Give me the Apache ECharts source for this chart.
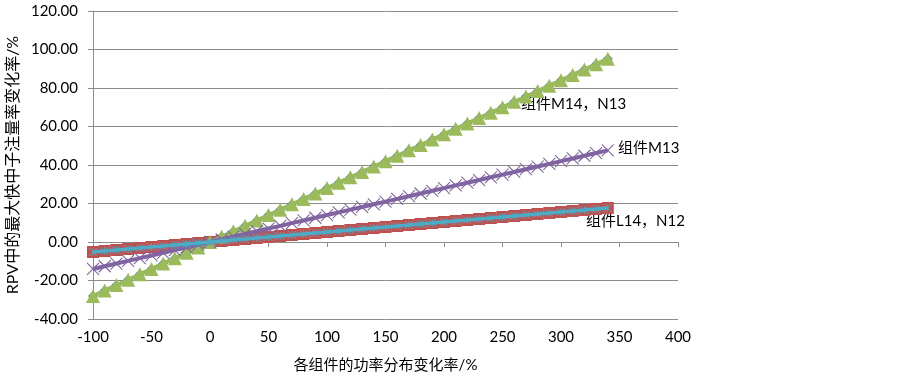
<!DOCTYPE html>
<html><head><meta charset="utf-8">
<script src="https://cdn.jsdelivr.net/npm/echarts@6/dist/echarts.min.js"></script>
<style>html,body{margin:0;padding:0;background:#fff}#c{width:900px;height:377px}</style>
</head><body><div id="c"></div>
<script>
const xValues = [-100,-90,-80,-70,-60,-50,-40,-30,-20,-10,0,10,20,30,40,50,60,70,80,90,100,110,120,130,140,150,160,170,180,190,200,210,220,230,240,250,260,270,280,290,300,310,320,330,340];
const seriesM14 = [-28,-25.2,-22.4,-19.6,-16.8,-14,-11.2,-8.4,-5.6,-2.8,0,2.8,5.6,8.4,11.2,14,16.8,19.6,22.4,25.2,28,30.8,33.6,36.4,39.2,42,44.8,47.6,50.4,53.2,56,58.8,61.6,64.4,67.2,70,72.8,75.6,78.4,81.2,84,86.8,89.6,92.4,95.2];
const seriesN13 = [-28,-25.2,-22.4,-19.6,-16.8,-14,-11.2,-8.4,-5.6,-2.8,0,2.8,5.6,8.4,11.2,14,16.8,19.6,22.4,25.2,28,30.8,33.6,36.4,39.2,42,44.8,47.6,50.4,53.2,56,58.8,61.6,64.4,67.2,70,72.8,75.6,78.4,81.2,84,86.8,89.6,92.4,95.2];
const seriesM13 = [-14,-12.6,-11.2,-9.8,-8.4,-7,-5.6,-4.2,-2.8,-1.4,0,1.4,2.8,4.2,5.6,7,8.4,9.8,11.2,12.6,14,15.4,16.8,18.2,19.6,21,22.4,23.8,25.2,26.6,28,29.4,30.8,32.2,33.6,35,36.4,37.8,39.2,40.6,42,43.4,44.8,46.2,47.6];
const seriesL14 = [-5.2,-4.68,-4.16,-3.64,-3.12,-2.6,-2.08,-1.56,-1.04,-0.52,0,0.52,1.04,1.56,2.08,2.6,3.12,3.64,4.16,4.68,5.2,5.72,6.24,6.76,7.28,7.8,8.32,8.84,9.36,9.88,10.4,10.92,11.44,11.96,12.48,13,13.52,14.04,14.56,15.08,15.6,16.12,16.64,17.16,17.68];
const seriesN12 = [-5.2,-4.68,-4.16,-3.64,-3.12,-2.6,-2.08,-1.56,-1.04,-0.52,0,0.52,1.04,1.56,2.08,2.6,3.12,3.64,4.16,4.68,5.2,5.72,6.24,6.76,7.28,7.8,8.32,8.84,9.36,9.88,10.4,10.92,11.44,11.96,12.48,13,13.52,14.04,14.56,15.08,15.6,16.12,16.64,17.16,17.68];
const xAxisTitle = '各组件的功率分布变化率/%';
const yAxisTitle = 'RPV中的最大快中子注量率变化率/%';
const labelA = '组件M14，N13';
const labelB = '组件M13';
const labelC = '组件L14，N12';

const FONT = 'Lato, "Noto Sans CJK SC", sans-serif';
const GRID = '#8c8c8c';
const xSym = 'path://M0,0 L10,10 M10,0 L0,10';
const starSym = 'path://M0,0 L10,10 M10,0 L0,10 M5,0 L5,10';

function pairs(ys){ return xValues.map((x,i)=>[x,ys[i]]); }
function mk(name, ys, color, symbol, size, lw, stroked, z, bw){
  return {name, type:'line', data:pairs(ys), symbol, symbolSize:size, showAllSymbol:true, z,
    lineStyle:{color, width:lw},
    itemStyle: stroked ? {color:'rgba(0,0,0,0)', borderColor:color, borderWidth:bw} : {color, borderWidth:0},
    animation:false};
}

const chart = echarts.init(document.getElementById('c'));
chart.setOption({
  animation:false,
  grid:{left:93, right:222, top:11, bottom:58, outerBoundsMode:'none', containLabel:false},
  xAxis:{type:'value', min:-100, max:400, interval:50,
    name:xAxisTitle, nameLocation:'middle', nameGap:39, nameMoveOverlap:false,
    nameTextStyle:{fontFamily:FONT, fontSize:15, color:'#000'},
    axisLine:{show:true, lineStyle:{color:GRID}}, axisTick:{show:true, length:5, lineStyle:{color:GRID}},
    axisLabel:{fontFamily:FONT, fontSize:15, color:'#000', margin:11},
    splitLine:{show:false}},
  yAxis:{type:'value', min:-40, max:120, interval:20,
    name:yAxisTitle, nameLocation:'middle', nameGap:72, nameMoveOverlap:false,
    nameTextStyle:{fontFamily:FONT, fontSize:16, color:'#000'},
    axisLine:{show:true, onZero:false, lineStyle:{color:GRID}}, axisTick:{show:true, length:5, lineStyle:{color:GRID}},
    axisLabel:{fontFamily:FONT, fontSize:15, color:'#000', margin:15, formatter:v=>v.toFixed(2)},
    splitLine:{show:true, lineStyle:{color:GRID, width:1}}},
  series:[
    mk('M14', seriesM14, '#4F81BD', 'diamond', 10, 3.5, false, 2, 0),
    mk('L14', seriesL14, '#C0504D', 'rect', 12, 3.5, false, 2, 0),
    mk('N13', seriesN13, '#9BBB59', 'triangle', 14, 3.5, false, 3, 0),
    mk('M13', seriesM13, '#8064A2', xSym, 12, 4, true, 4, 1.1),
    mk('N12', seriesN12, '#4BACC6', starSym, 8, 3.5, true, 5, 0.9)
  ],
  graphic:[
    {type:'text', left:521, top:97, style:{text:labelA, font:'15px '+FONT, fill:'#000'}},
    {type:'text', left:618, top:141, style:{text:labelB, font:'15px '+FONT, fill:'#000'}},
    {type:'text', left:586, top:214, style:{text:labelC, font:'15px '+FONT, fill:'#000'}}
  ]
});
</script></body></html>
